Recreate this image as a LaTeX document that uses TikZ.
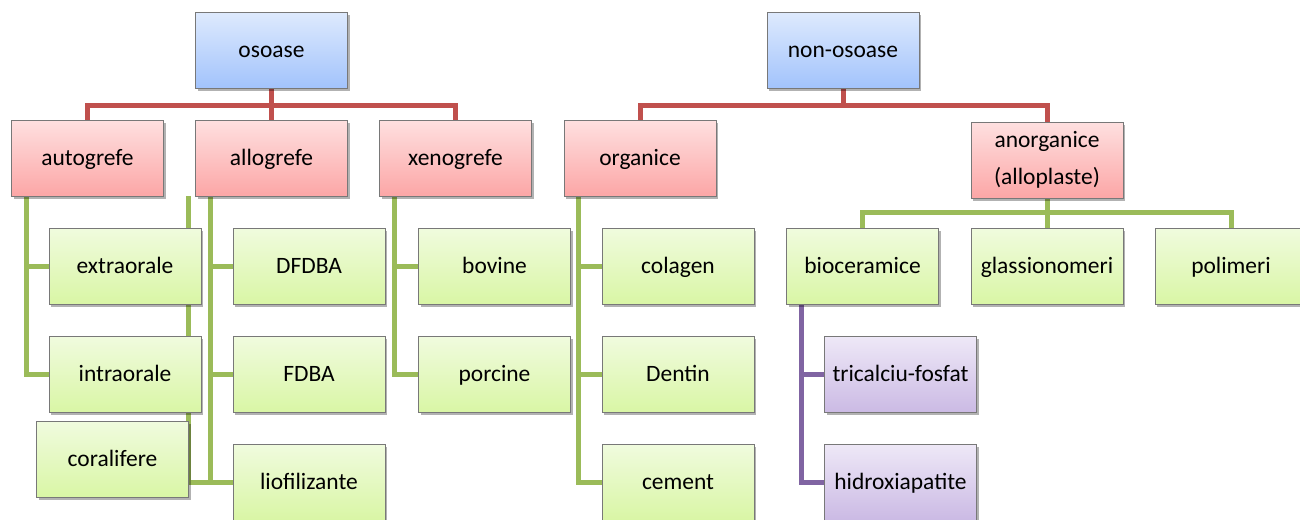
\documentclass[tikz,border=0pt]{standalone}
\usepackage{fontspec}
\setmainfont{Carlito}
\usetikzlibrary{shadows, backgrounds, calc}

\definecolor{bluetop}{RGB}{222,234,253}
\definecolor{bluebot}{RGB}{162,195,252}
\definecolor{redtop}{RGB}{254,224,224}
\definecolor{redbot}{RGB}{252,166,166}
\definecolor{greentop}{RGB}{240,251,222}
\definecolor{greenbot}{RGB}{217,246,165}
\definecolor{lilactop}{RGB}{238,232,247}
\definecolor{lilacbot}{RGB}{203,186,228}
\definecolor{boxline}{RGB}{120,120,120}
\definecolor{redwire}{RGB}{192,80,77}
\definecolor{greenwire}{RGB}{155,187,89}
\definecolor{lilacwire}{RGB}{128,100,162}

\begin{document}
\begin{tikzpicture}[x=0.75pt, y=-0.75pt,
    basebox/.style={draw=boxline, line width=0.6pt, minimum width=114pt, minimum height=57pt,
        inner sep=2pt, align=center, font=\fontsize{17.6}{21.5}\selectfont,
        drop shadow={shadow xshift=1.5pt, shadow yshift=-2pt, opacity=0.3, fill=black}},
    box/.style={basebox, text height=12.5pt, text depth=1.3pt},
    rootbox/.style={box, top color=bluetop, bottom color=bluebot},
    groupbox/.style={box, top color=redtop, bottom color=redbot},
    leafbox/.style={box, top color=greentop, bottom color=greenbot},
    subbox/.style={box, top color=lilactop, bottom color=lilacbot},
    redlink/.style={draw=redwire, line width=3.75pt},
    greenlink/.style={draw=greenwire, line width=3.75pt},
    lilaclink/.style={draw=lilacwire, line width=3.75pt}]
                \useasboundingbox (0,0) rectangle (1300,519);
                \clip (0,0) rectangle (1300,519);
                \coordinate (redbar) at (0,105);
                \coordinate (greenbar) at (0,212);

                \node[rootbox] (osoase) at (271.5,50) {osoase};
                \node[groupbox] (autogrefe) at (87.5,158) {autogrefe};
                \node[groupbox] (allogrefe) at (271.5,158) {allogrefe};
                \node[groupbox] (xenogrefe) at (455.5,158) {xenogrefe};
                \node[leafbox] (extraorale) at (125,266) {extraorale};
                \node[leafbox] (intraorale) at (125,374.5) {intraorale};
                \node[leafbox] (coralifere) at (112.5,459.5) {coralifere};
                \node[leafbox] (dfdba) at (309,266) {DFDBA};
                \node[leafbox] (fdba) at (309,374.5) {FDBA};
                \node[leafbox] (liofilizante) at (309,482) {liofilizante};
                \node[leafbox] (bovine) at (494.5,266) {bovine};
                \node[leafbox] (porcine) at (494.5,374.5) {porcine};

                \node[rootbox] (nonosoase) at (843,50) {non-osoase};
                \node[groupbox] (organice) at (640,158) {organice};
                \node[basebox, top color=redtop, bottom color=redbot] (anorganice) at (1047,160) {anorganice\\[6pt](alloplaste)};
                \node[leafbox] (colagen) at (678,266) {colagen};
                \node[leafbox] (dentin) at (678,374.5) {Dentin};
                \node[leafbox] (cement) at (678,482) {cement};
                \node[leafbox] (bioceramice) at (862.5,266) {bioceramice};
                \node[leafbox] (glassionomeri) at (1047,266) {glassionomeri};
                \node[leafbox] (polimeri) at (1231,266) {polimeri};
                \node[subbox] (tricalciu) at (900.5,374.5) {tricalciu-fosfat};
                \node[subbox] (hidroxiapatite) at (900.5,482) {hidroxiapatite};

                \begin{scope}[on background layer]
                \draw[redlink] (osoase.south) -- (allogrefe.north);
                \draw[redlink] (osoase.south |- redbar) -| (autogrefe.north);
                \draw[redlink] (osoase.south |- redbar) -| (xenogrefe.north);
                \draw[redlink] (nonosoase.south) -- (nonosoase.south |- redbar) -| (organice.north);
                \draw[redlink] (nonosoase.south |- redbar) -| (anorganice.north);

                \draw[greenlink] ($(autogrefe.south west)+(15,0)$) |- (extraorale.west);
                \draw[greenlink] ($(autogrefe.south west)+(15,0)$) |- (intraorale.west);
                \draw[greenlink] ($(allogrefe.south west)+(15,0)$) |- (dfdba.west);
                \draw[greenlink] ($(allogrefe.south west)+(15,0)$) |- (fdba.west);
                \draw[greenlink] ($(allogrefe.south west)+(15,0)$) |- (liofilizante.west);
                \draw[greenlink] (coralifere.north east |- allogrefe.south) |- (liofilizante.west);
                \draw[greenlink] ($(xenogrefe.south west)+(15,0)$) |- (bovine.west);
                \draw[greenlink] ($(xenogrefe.south west)+(15,0)$) |- (porcine.west);
                \draw[greenlink] ($(organice.south west)+(15,0)$) |- (colagen.west);
                \draw[greenlink] ($(organice.south west)+(15,0)$) |- (dentin.west);
                \draw[greenlink] ($(organice.south west)+(15,0)$) |- (cement.west);
                \draw[greenlink] (anorganice.south) -- (glassionomeri.north);
                \draw[greenlink] (anorganice.south |- greenbar) -| (bioceramice.north);
                \draw[greenlink] (anorganice.south |- greenbar) -| (polimeri.north);

                \draw[lilaclink] ($(bioceramice.south west)+(15,0)$) |- (tricalciu.west);
                \draw[lilaclink] ($(bioceramice.south west)+(15,0)$) |- (hidroxiapatite.west);
                \end{scope}
            \end{tikzpicture}
\end{document}
